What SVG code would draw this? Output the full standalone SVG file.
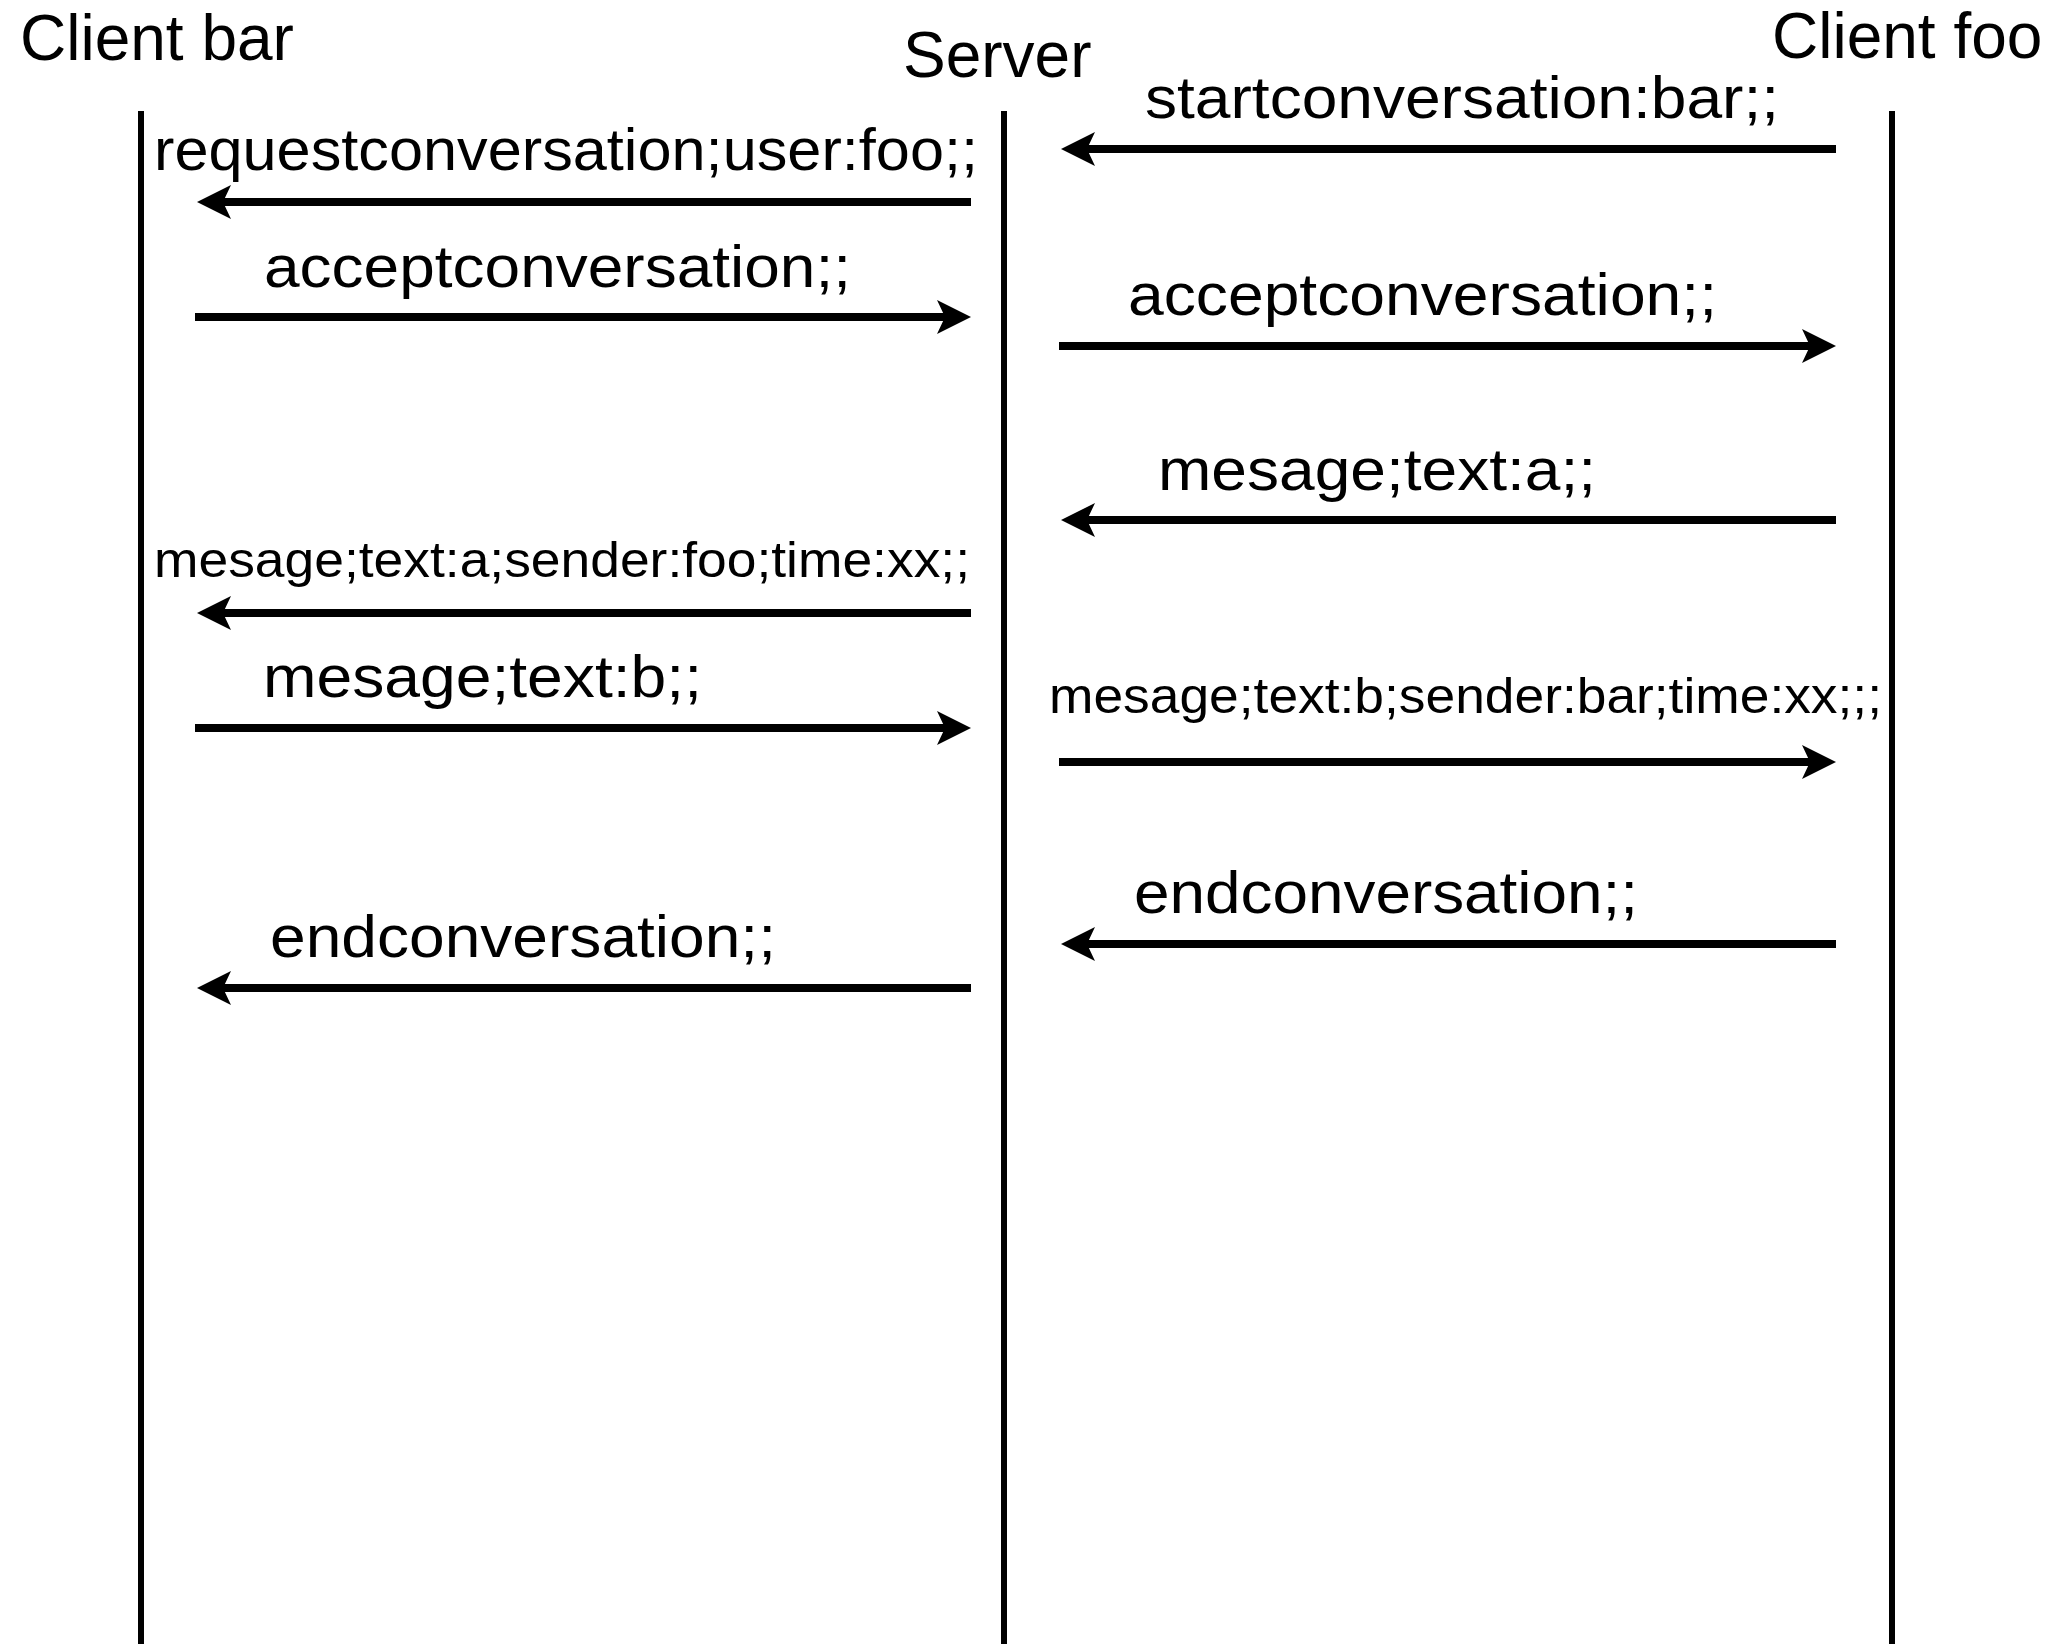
<svg xmlns="http://www.w3.org/2000/svg" width="2064" height="1644" viewBox="0 0 2064 1644">
<style>
.title{font-family:"Liberation Sans",Arial,sans-serif;font-size:64px;fill:#000}
.lbl{font-family:"Liberation Sans",Arial,sans-serif;font-size:60px;fill:#000}
.sm{font-family:"Liberation Sans",Arial,sans-serif;font-size:50px;fill:#000}
.life{stroke:#000;stroke-width:6;fill:none}
.msg{stroke:#000;stroke-width:8;fill:none;marker-end:url(#ah)}
</style>
<defs>
<marker id="ah" markerUnits="userSpaceOnUse" markerWidth="40" markerHeight="40" viewBox="0 -20 40 40" refX="10" refY="0" orient="auto" overflow="visible">
<path d="M0,-17 L34,0 L0,17 L8,0 Z" fill="#000"/>
</marker>
</defs>
<rect width="2064" height="1644" fill="#fff"/>
<g id="client-bar">
<text class="title" x="20" y="60">Client bar</text>
<line class="life" x1="141" y1="111" x2="141" y2="1644"/>
</g>
<g id="server">
<text class="title" x="903" y="77">Server</text>
<line class="life" x1="1004" y1="111" x2="1004" y2="1644"/>
</g>
<g id="client-foo">
<text class="title" x="1772" y="58">Client foo</text>
<line class="life" x1="1892" y1="111" x2="1892" y2="1644"/>
</g>
<g id="connectors">
<line class="msg" x1="1836" y1="149" x2="1085" y2="149"/>
<line class="msg" x1="971" y1="202" x2="221" y2="202"/>
<line class="msg" x1="195" y1="317" x2="947" y2="317"/>
<line class="msg" x1="1059" y1="346" x2="1812" y2="346"/>
<line class="msg" x1="1836" y1="520" x2="1085" y2="520"/>
<line class="msg" x1="971" y1="613" x2="221" y2="613"/>
<line class="msg" x1="195" y1="728" x2="947" y2="728"/>
<line class="msg" x1="1059" y1="762" x2="1812" y2="762"/>
<line class="msg" x1="1836" y1="944" x2="1085" y2="944"/>
<line class="msg" x1="971" y1="988" x2="221" y2="988"/>
</g>
<g id="labels">
<text class="lbl" x="1145" y="118" textLength="634" lengthAdjust="spacingAndGlyphs">startconversation:bar;;</text>
<text class="lbl" x="154" y="170" textLength="824" lengthAdjust="spacingAndGlyphs">requestconversation;user:foo;;</text>
<text class="lbl" x="264" y="287" textLength="587" lengthAdjust="spacingAndGlyphs">acceptconversation;;</text>
<text class="lbl" x="1128" y="315" textLength="589" lengthAdjust="spacingAndGlyphs">acceptconversation;;</text>
<text class="lbl" x="1158" y="490" textLength="438" lengthAdjust="spacingAndGlyphs">mesage;text:a;;</text>
<text class="sm" x="154" y="577" textLength="816" lengthAdjust="spacingAndGlyphs">mesage;text:a;sender:foo;time:xx;;</text>
<text class="lbl" x="263" y="697" textLength="439" lengthAdjust="spacingAndGlyphs">mesage;text:b;;</text>
<text class="sm" x="1049" y="713" textLength="833" lengthAdjust="spacingAndGlyphs">mesage;text:b;sender:bar;time:xx;;;</text>
<text class="lbl" x="1134" y="913" textLength="504" lengthAdjust="spacingAndGlyphs">endconversation;;</text>
<text class="lbl" x="270" y="957" textLength="506" lengthAdjust="spacingAndGlyphs">endconversation;;</text>
</g>
</svg>
